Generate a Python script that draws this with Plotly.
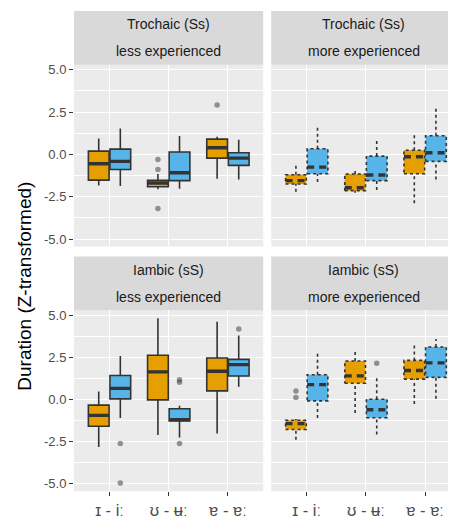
import plotly.graph_objects as go

# ---------------- data ----------------
categories = ["ɪ - iː", "ʊ - ʉː", "ɐ - ɐː"]
y_ticks = [-5.0, -2.5, 0.0, 2.5, 5.0]
y_tick_labels = ["-5.0", "-2.5", "0.0", "2.5", "5.0"]
y_minor = [-3.75, -1.25, 1.25, 3.75]
stress_labels = ["Trochaic (Ss)", "Iambic (sS)"]
experience_labels = ["less experienced", "more experienced"]

# box statistics per category: lower whisker, q1, median, q3, upper whisker
troch_less_short = dict(lower=[-1.83, -2.06, -1.44], q1=[-1.52, -1.91, -0.22],
                        median=[-0.55, -1.69, 0.39], q3=[0.19, -1.53, 0.90],
                        upper=[0.94, -1.16, 1.04])
troch_less_long = dict(lower=[-1.87, -2.03, -1.48], q1=[-0.89, -1.55, -0.65],
                       median=[-0.41, -1.08, -0.22], q3=[0.31, 0.14, 0.10],
                       upper=[1.53, 1.08, 0.86])
troch_more_short = dict(lower=[-2.20, -2.26, -2.89], q1=[-1.75, -2.14, -1.14],
                        median=[-1.55, -1.97, -0.14], q3=[-1.20, -1.16, 0.24],
                        upper=[-0.57, -0.97, 1.16])
troch_more_long = dict(lower=[-1.63, -2.10, -1.48], q1=[-1.14, -1.55, -0.41],
                       median=[-0.75, -1.22, 0.10], q3=[0.33, -0.10, 1.10],
                       upper=[1.67, 0.90, 2.81])
iamb_less_short = dict(lower=[-2.81, -2.11, -2.01], q1=[-1.58, -0.02, 0.51],
                       median=[-0.94, 1.64, 1.68], q3=[-0.33, 2.62, 2.46],
                       upper=[0.47, 4.81, 4.61])
iamb_less_long = dict(lower=[-1.10, -2.25, 0.76], q1=[0.04, -1.27, 1.39],
                      median=[0.66, -1.19, 2.07], q3=[1.42, -0.55, 2.38],
                      upper=[2.58, -0.37, 3.79])
iamb_more_short = dict(lower=[-2.38, -0.80, -0.26], q1=[-1.78, 0.96, 1.21],
                       median=[-1.43, 1.40, 1.72], q3=[-1.23, 2.28, 2.32],
                       upper=[-1.15, 2.91, 3.36])
iamb_more_long = dict(lower=[-1.10, -2.07, 0.04], q1=[-0.08, -1.08, 1.31],
                      median=[0.88, -0.61, 2.17], q3=[1.47, 0.02, 3.11],
                      upper=[2.75, 1.44, 3.59])

# outliers per category
troch_less_short_out = [[], [-0.30, -0.89, -3.19], [2.91]]
troch_less_long_out = [[], [], []]
troch_more_short_out = [[], [], []]
troch_more_long_out = [[], [], []]
iamb_less_short_out = [[], [], []]
iamb_less_long_out = [[-2.60, -4.95], [1.17, 1.02, -2.60], [4.18]]
iamb_more_short_out = [[0.51, 0.12], [], []]
iamb_more_long_out = [[], [2.15], []]

# ---------------- style ----------------
SHORT_COL = "#E69F00"
LONG_COL = "#56B4E9"
LINE_COL = "#333333"
PANEL_BG = "#EBEBEB"
STRIP_BG = "#D9D9D9"
FONT = "Liberation Sans, Arial, DejaVu Sans, sans-serif"
PAGE_W, PAGE_H = 456, 519
OFF = 8  # default page body margin
W, H = PAGE_W - OFF, PAGE_H - OFF
DODGE = 0.1825
BOXW = 0.35

panels = [
    # (row, col, short, long, short_out, long_out)
    (0, 0, troch_less_short, troch_less_long, troch_less_short_out, troch_less_long_out),
    (0, 1, troch_more_short, troch_more_long, troch_more_short_out, troch_more_long_out),
    (1, 0, iamb_less_short, iamb_less_long, iamb_less_short_out, iamb_less_long_out),
    (1, 1, iamb_more_short, iamb_more_long, iamb_more_short_out, iamb_more_long_out),
]

# panel geometry in page pixels
col_x = [(74.0, 263.2), (271.2, 456.0)]
row_y = [(63.3, 247.3), (311.7, 495.0)]
strip_h = 54.3
unit_px = 59.2


def px(xp):
    return (xp - OFF) / W


def py(yp):
    return 1 - (yp - OFF) / H


all_vals = []
for _, _, s, l, so, lo in panels:
    for d in (s, l):
        all_vals += d["lower"] + d["upper"]
    for o in so + lo:
        all_vals += o
vmin, vmax = min(all_vals), max(all_vals)
pad = (vmax - vmin) * 0.05
y_range = [vmin - pad, vmax + pad]

fig = go.Figure()
layout_axes = {}
shapes = []
annotations = []

for idx, (row, col, sdat, ldat, sout, lout) in enumerate(panels):
    k = "" if idx == 0 else str(idx + 1)
    xa, ya = "x" + k, "y" + k
    x0p, x1p = col_x[col]
    y0p, y1p = row_y[row]
    x_range = [0.4, 0.4 + (x1p - x0p) / unit_px]
    dashed = col == 1

    for dat, outs, colr, sign in ((sdat, sout, SHORT_COL, -1), (ldat, lout, LONG_COL, 1)):
        pos = [i + 1 + sign * DODGE for i in range(len(categories))]
        fig.add_trace(go.Box(
            x=pos, q1=dat["q1"], median=dat["median"], q3=dat["q3"],
            lowerfence=dat["lower"], upperfence=dat["upper"],
            width=BOXW, fillcolor=colr, whiskerwidth=0, boxpoints=False,
            line=dict(color=LINE_COL if not dashed else "rgba(0,0,0,0)",
                      width=1.6 if not dashed else 0),
            xaxis=xa, yaxis=ya, showlegend=False, hoverinfo="skip"))
        # thick median line
        mx, my = [], []
        for p, m in zip(pos, dat["median"]):
            mx += [p - BOXW / 2, p + BOXW / 2, None]
            my += [m, m, None]
        if dashed:
            ox, oy = [], []
            for i, p in enumerate(pos):
                l, r = p - BOXW / 2, p + BOXW / 2
                ox += [l, r, r, l, l, None, p, p, None, p, p, None]
                oy += [dat["q1"][i], dat["q1"][i], dat["q3"][i], dat["q3"][i], dat["q1"][i], None,
                       dat["q3"][i], dat["upper"][i], None, dat["lower"][i], dat["q1"][i], None]
            fig.add_trace(go.Scatter(x=ox, y=oy, mode="lines",
                                     line=dict(color=LINE_COL, width=1.6, dash="3px,3px"),
                                     xaxis=xa, yaxis=ya, showlegend=False, hoverinfo="skip"))
            fig.add_trace(go.Scatter(x=mx, y=my, mode="lines",
                                     line=dict(color=LINE_COL, width=3.4, dash="7px,5px"),
                                     xaxis=xa, yaxis=ya, showlegend=False, hoverinfo="skip"))
        else:
            fig.add_trace(go.Scatter(x=mx, y=my, mode="lines",
                                     line=dict(color=LINE_COL, width=3.4),
                                     xaxis=xa, yaxis=ya, showlegend=False, hoverinfo="skip"))
        # outliers
        ptx, pty = [], []
        for p, vals in zip(pos, outs):
            for v in vals:
                ptx.append(p)
                pty.append(v)
        if ptx:
            fig.add_trace(go.Scatter(x=ptx, y=pty, mode="markers",
                                     marker=dict(color="rgba(51,51,51,0.5)", size=5.5),
                                     xaxis=xa, yaxis=ya, showlegend=False, hoverinfo="skip"))

    bottom = row == 1
    left = col == 0
    layout_axes["xaxis" + k] = dict(
        domain=[px(x0p), min(1.0, px(x1p))], range=x_range, anchor=ya,
        tickmode="array", tickvals=[1, 2, 3], ticktext=categories,
        showticklabels=bottom, ticks="outside" if bottom else "",
        ticklen=3.5, tickwidth=1.1, tickcolor=LINE_COL,
        tickfont=dict(family=FONT, size=16.5, color="#4D4D4D"),
        showgrid=True, gridcolor="white", gridwidth=1.4,
        zeroline=False, showline=False, fixedrange=True)
    layout_axes["yaxis" + k] = dict(
        domain=[py(y1p), py(y0p)], range=y_range, anchor=xa,
        tickmode="array", tickvals=y_ticks, ticktext=y_tick_labels,
        showticklabels=left, ticks="outside" if left else "",
        ticklen=4, tickwidth=1.1, tickcolor=LINE_COL,
        tickfont=dict(family=FONT, size=13, color="#4D4D4D"),
        showgrid=True, gridcolor="white", gridwidth=1.4,
        minor=dict(tickmode="array", tickvals=y_minor, showgrid=True,
                   gridcolor="white", gridwidth=0.7, ticks=""),
        zeroline=False, showline=False, fixedrange=True)

    # facet strip
    st_top = y0p - strip_h
    shapes.append(dict(type="rect", xref="paper", yref="paper",
                       x0=px(x0p), x1=min(1.0, px(x1p)), y0=py(y0p), y1=py(st_top),
                       fillcolor=STRIP_BG, line=dict(width=0), layer="below"))
    for j, txt in enumerate((stress_labels[row], experience_labels[col])):
        cy = st_top + strip_h * (0.25 + 0.5 * j)
        annotations.append(dict(text=txt, xref="paper", yref="paper",
                                x=px((x0p + x1p) / 2), y=py(cy),
                                xanchor="center", yanchor="middle", showarrow=False,
                                font=dict(family=FONT, size=14, color="#1A1A1A")))

annotations.append(dict(text="Duration (Z-transformed)", xref="paper", yref="paper",
                        x=px(25), y=py(288), textangle=-90,
                        xanchor="center", yanchor="middle", showarrow=False,
                        font=dict(family=FONT, size=19, color="black")))

fig.update_layout(
    width=W, height=H, margin=dict(l=0, r=0, t=0, b=0),
    paper_bgcolor="white", plot_bgcolor=PANEL_BG,
    boxmode="overlay", showlegend=False,
    shapes=shapes, annotations=annotations,
    font=dict(family=FONT), **layout_axes)

fig.write_html("out.html")
